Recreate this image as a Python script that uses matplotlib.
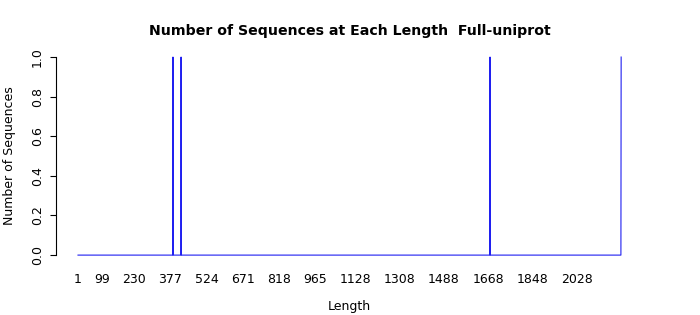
import matplotlib

matplotlib.use("Agg")

import matplotlib.pyplot as plt

# sequence counts by length (zero everywhere except the spikes)
lengths = [1, 386, 387, 388, 419, 420, 421, 1675, 1676, 1677, 2208, 2209]
counts = [0, 0, 1, 0, 0, 1, 0, 0, 1, 0, 0, 1]

x_ticks = [1, 99, 230, 377, 524, 671, 818, 965, 1128, 1308, 1488, 1668, 1848, 2028]
y_ticks = [0.0, 0.2, 0.4, 0.6, 0.8, 1.0]

fig = plt.figure(figsize=(7, 3.15), dpi=100)
ax = fig.add_axes([0.0804, 0.165, 0.838, 0.679])

ax.plot(lengths, counts, color="#2020f0", linewidth=0.8)

span = lengths[-1] - lengths[0]
ax.set_xlim(lengths[0] - 0.04 * span, lengths[-1] + 0.04 * span)
ax.set_ylim(-0.04, 1.04)

for side in ("top", "right", "bottom"):
    ax.spines[side].set_visible(False)
ax.spines["left"].set_bounds(0, 1)
ax.spines["left"].set_linewidth(0.8)

ax.set_yticks(y_ticks)
ax.set_yticklabels([f"{v:.1f}" for v in y_ticks], rotation=90, va="center")
ax.tick_params(axis="y", length=4, width=0.8, pad=5, labelsize=9)

ax.set_xticks(x_ticks)
ax.set_xticklabels([str(v) for v in x_ticks])
ax.tick_params(axis="x", length=0, pad=7, labelsize=9)

ax.set_xlabel("Length", fontsize=9, labelpad=10)
ax.set_ylabel("Number of Sequences", fontsize=9, labelpad=11)
fig.suptitle("Number of Sequences at Each Length  Full-uniprot",
             x=0.5, y=0.925, fontsize=10.2, fontweight="bold")

fig.savefig("out.png", dpi=100)
